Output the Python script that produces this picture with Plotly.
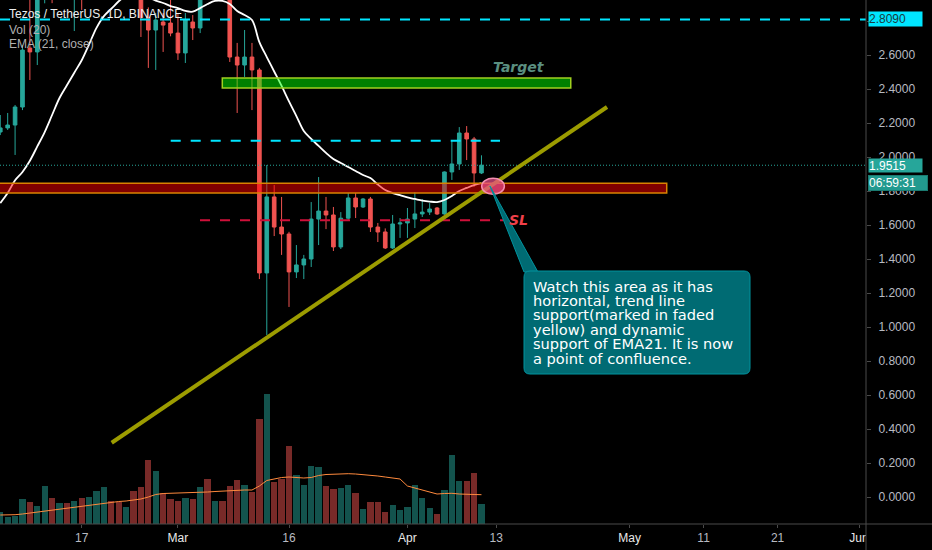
import plotly.graph_objects as go
import pandas as pd

# ---------------- data (XTZ/USDT, 1D) ----------------
dates = pd.date_range("2020-02-06", "2020-04-11", freq="D")

open_ = [2.147, 2.171, 2.188, 2.294, 2.641, 2.618, 3.00, 3.25, 3.15, 3.35,
         3.25, 3.45, 3.30, 3.50, 3.70, 3.90, 3.80, 3.70, 3.85, 3.40,
         2.82, 2.747, 2.794, 2.788, 2.729, 2.612, 2.794, 2.759, 3.10, 3.00,
         3.15, 3.05, 2.588, 2.541, 2.588, 2.512, 1.318, 1.765, 1.588, 1.547,
         1.324, 1.365, 1.400, 1.635, 1.682, 1.659, 1.471, 1.640, 1.759, 1.706,
         1.753, 1.588, 1.559, 1.465, 1.606, 1.612, 1.635, 1.665, 1.676, 1.700,
         1.665, 1.912, 1.959, 2.141, 2.106, 1.906]
high = [2.247, 2.259, 2.306, 2.659, 2.96, 3.10, 3.35, 3.40, 3.50, 3.45,
        3.60, 3.55, 3.60, 3.80, 4.00, 3.95, 3.90, 3.95, 3.90, 3.45,
        2.88, 2.847, 2.847, 2.95, 2.847, 2.847, 2.835, 3.15, 3.25, 3.25,
        3.20, 3.10, 2.671, 2.747, 2.671, 2.524, 1.953, 1.835, 1.765, 1.560,
        1.482, 1.424, 1.735, 1.882, 1.765, 1.706, 1.676, 1.788, 1.788, 1.759,
        1.765, 1.612, 1.580, 1.659, 1.641, 1.700, 1.794, 1.753, 1.729, 1.706,
        1.915, 2.100, 2.176, 2.182, 2.118, 2.010]
low = [2.129, 2.159, 2.012, 2.276, 2.453, 2.541, 2.904, 2.905, 3.05, 3.00,
       2.741, 2.865, 3.10, 3.20, 3.50, 3.60, 3.55, 3.45, 3.30, 2.706,
       2.524, 2.512, 2.618, 2.710, 2.571, 2.553, 2.688, 2.729, 2.95, 2.96,
       2.97, 2.559, 2.259, 2.471, 2.276, 1.282, 0.953, 1.535, 1.424, 1.118,
       1.288, 1.282, 1.353, 1.482, 1.576, 1.447, 1.459, 1.624, 1.641, 1.700,
       1.559, 1.500, 1.459, 1.459, 1.524, 1.524, 1.582, 1.647, 1.659, 1.659,
       1.660, 1.865, 1.924, 1.982, 1.824, 1.900]
close = [2.171, 2.188, 2.294, 2.629, 2.618, 3.00, 3.25, 3.15, 3.35, 3.25,
         3.45, 3.30, 3.50, 3.70, 3.90, 3.80, 3.70, 3.85, 3.40, 2.82,
         2.747, 2.806, 2.776, 2.729, 2.612, 2.806, 2.759, 3.10, 3.00, 3.15,
         3.05, 2.588, 2.541, 2.588, 2.512, 1.318, 1.765, 1.588, 1.547, 1.324,
         1.365, 1.400, 1.635, 1.682, 1.659, 1.471, 1.640, 1.759, 1.706, 1.753,
         1.588, 1.559, 1.465, 1.606, 1.612, 1.635, 1.665, 1.676, 1.694, 1.665,
         1.912, 1.959, 2.141, 2.106, 1.906, 1.9515]

# volume (units of 100k XTZ)
volume = [11.7, 7.3, 8.3, 24.7, 22.3, 18, 38, 25.7, 20.7, 20.7,
          23.3, 25.7, 27.3, 33, 37.3, 23.3, 22.3, 16.7, 33, 36.7,
          64, 53, 30.7, 25.3, 23, 26.3, 24.7, 37.3, 45, 23.3,
          23.3, 38, 44, 38.7, 31.7, 104.7, 130, 42, 45, 78,
          48.7, 39, 58.3, 57, 38.3, 35, 36.3, 38.7, 30.7, 14.7,
          21.7, 21.7, 12, 19, 14, 17.3, 38.7, 26, 16, 9.7,
          34, 69, 43, 43, 51.3, 20]
vol_ma20 = [9, 9, 9.3, 10, 11, 12, 13, 14, 15, 16,
            17, 18, 19, 20, 21, 22, 22.5, 23, 24, 25,
            27, 29.5, 30.5, 30.7, 30.7, 31, 31, 31.3, 32, 32.5,
            33, 33.3, 34, 34, 34, 38, 43.5, 45, 46.5, 47,
            46.5, 46, 46.5, 48.5, 49.5, 50, 50.3, 50.3, 50, 49.5,
            49, 48, 47, 46, 45, 38, 36, 34.5, 32, 30,
            30.5, 30.7, 30, 29.5, 29.5, 29.3]
ema21 = [1.729, 1.788, 1.863, 1.912, 1.978, 2.062, 2.147, 2.247, 2.347, 2.422,
         2.496, 2.569, 2.663, 2.760, 2.829, 2.872, 2.916, 2.95, 2.97, 2.96,
         2.94, 2.92, 2.906, 2.888, 2.876, 2.859, 2.855, 2.876, 2.90, 2.918,
         2.918, 2.90, 2.859, 2.835, 2.806, 2.676, 2.588, 2.503, 2.418, 2.327,
         2.241, 2.153, 2.106, 2.065, 2.024, 1.988, 1.965, 1.941, 1.918, 1.894,
         1.876, 1.838, 1.806, 1.788, 1.776, 1.762, 1.753, 1.744, 1.738, 1.735,
         1.747, 1.771, 1.80, 1.818, 1.835, 1.847]

tick_dates = ["2020-02-17", "2020-03-01", "2020-03-16", "2020-04-01", "2020-04-13",
              "2020-05-01", "2020-05-11", "2020-05-21", "2020-06-01"]
tick_text = ["17", "Mar", "16", "Apr", "13", "May", "11", "21", "Jun"]
month_labels = {"Mar", "Apr", "May", "Jun"}

last_price = 1.9515
level_top = 2.809
callout_lines = ["Watch this area as it has",
                 "horizontal, trend line",
                 "support(marked in faded",
                 "yellow) and dynamic",
                 "support of EMA21. It is now",
                 "a point of confluence."]

# ---------------- styling ----------------
UP, DOWN = "#26a69a", "#ef5350"
AXIS_TXT = "#b8bbc2"
LINE_GRAY = "#4a4a4a"
PW, PH = 866.0, 524.0   # plot area in px

def px_x(p):
    return p / PW

def px_y(p):
    return 1 - p / PH

vol_colors = ["rgba(38,166,154,0.5)" if c >= o else "rgba(239,83,80,0.5)"
              for o, c in zip(open_, close)]

fig = go.Figure()
fig.add_trace(go.Candlestick(
    x=dates, open=open_, high=high, low=low, close=close,
    increasing=dict(line=dict(color=UP, width=1), fillcolor=UP),
    decreasing=dict(line=dict(color=DOWN, width=1), fillcolor=DOWN),
    whiskerwidth=0, hoverinfo="skip"))
fig.add_trace(go.Scatter(x=dates, y=ema21, mode="lines",
                         line=dict(color="#ffffff", width=1.8, shape="spline"),
                         hoverinfo="skip"))
fig.add_trace(go.Bar(x=dates, y=volume, yaxis="y2",
                     marker=dict(color=vol_colors, line=dict(width=0)),
                     width=0.85 * 86400000, hoverinfo="skip"))
fig.add_trace(go.Scatter(x=dates, y=vol_ma20, yaxis="y2", mode="lines",
                         line=dict(color="#ff8a3d", width=1), hoverinfo="skip"))

shapes = []
# horizontal levels
shapes.append(dict(type="line", xref="paper", yref="y", x0=0, x1=1,
                   y0=level_top, y1=level_top, layer="above",
                   line=dict(color="#00e5ff", width=2, dash="10px,10px")))
shapes.append(dict(type="line", xref="x", yref="y", x0="2020-02-29 00:30",
                   x1="2020-04-13 12:00", y0=2.096, y1=2.096, layer="above",
                   line=dict(color="#00e5ff", width=2, dash="10px,10px")))
shapes.append(dict(type="line", xref="x", yref="y", x0="2020-03-03 23:30",
                   x1="2020-04-13 22:50", y0=1.628, y1=1.628, layer="above",
                   line=dict(color="#d0103a", width=2, dash="10px,10px")))
shapes.append(dict(type="line", xref="paper", yref="y", x0=0, x1=1,
                   y0=last_price, y1=last_price, layer="above",
                   line=dict(color=UP, width=1, dash="1px,2px")))
# zones
shapes.append(dict(type="rect", xref="x", yref="y", x0="2020-03-06 23:46",
                   x1="2020-04-23 01:26", y0=2.406, y1=2.465, layer="above",
                   fillcolor="rgba(0,255,0,0.5)", line=dict(color="#a0d020", width=1.5)))
shapes.append(dict(type="rect", xref="x", yref="y", x0="2020-02-01",
                   x1="2020-05-06 00:30", y0=1.788, y1=1.846, layer="above",
                   fillcolor="rgba(255,0,0,0.5)", line=dict(color="#d98200", width=1.5)))
# trend line
shapes.append(dict(type="line", xref="x", yref="y", x0="2020-02-21 01:12", y0=0.319,
                   x1="2020-04-27 23:02", y1=2.294, layer="above",
                   line=dict(color="#9c9c00", width=4)))
# ellipse
shapes.append(dict(type="circle", xref="x", yref="y", x0="2020-04-11 00:45",
                   x1="2020-04-14 02:10", y0=1.781, y1=1.875, layer="above",
                   fillcolor="rgba(240,80,140,0.7)", line=dict(color="#f48fb1", width=1.5)))
# callout pointer + box (paper coords from px)
ptr = "M {:.4f} {:.4f} L {:.4f} {:.4f} L {:.4f} {:.4f} Z".format(
    px_x(490), px_y(186), px_x(524), px_y(272), px_x(538), px_y(272))
shapes.append(dict(type="path", xref="paper", yref="paper", path=ptr, layer="above",
                   fillcolor="#006b73", line=dict(color="#00939e", width=1)))
bx0, bx1, by0, by1, r = 524, 750, 271, 374, 6
box = ("M {a} {b} L {c} {b} Q {d} {b} {d} {e} L {d} {f} Q {d} {g} {c} {g} "
       "L {a} {g} Q {h} {g} {h} {f} L {h} {e} Q {h} {b} {a} {b} Z").format(
    a=px_x(bx0 + r), b=px_y(by0), c=px_x(bx1 - r), d=px_x(bx1), e=px_y(by0 + r),
    f=px_y(by1 - r), g=px_y(by1), h=px_x(bx0))
shapes.append(dict(type="path", xref="paper", yref="paper", path=box, layer="above",
                   fillcolor="#006b73", line=dict(color="#00939e", width=1)))
# cover for clipped time label right of the price scale
shapes.append(dict(type="rect", xref="paper", yref="paper", x0=1.0, x1=1.08,
                   y0=-0.06, y1=-0.003, layer="above", fillcolor="#000000",
                   line=dict(width=0)))
# axes lines spanning full width / height
shapes.append(dict(type="line", xref="paper", yref="paper", x0=0, x1=932 / PW,
                   y0=0, y1=0, layer="above", line=dict(color=LINE_GRAY, width=1)))
shapes.append(dict(type="line", xref="paper", yref="paper", x0=1, x1=1,
                   y0=-26 / PH, y1=1, layer="above", line=dict(color=LINE_GRAY, width=1)))

ann = []
hdr = [("Tezos / TetherUS, 1D, BINANCE", 14.3, "#eeeeee"),
       ("Vol (20)", 30.0, "#b0b0b0"),
       ("EMA (21, close)", 44.3, "#b0b0b0")]
for t, yy, col in hdr:
    ann.append(dict(text=t, xref="paper", yref="paper", x=px_x(7), y=px_y(yy),
                    xanchor="left", yanchor="middle", showarrow=False,
                    font=dict(family="Liberation Sans", size=12, color=col)))
ann.append(dict(text="<b><i>Target</i></b>", xref="paper", yref="paper",
                x=px_x(519), y=px_y(67), showarrow=False, xanchor="center", yanchor="middle",
                font=dict(family="DejaVu Sans", size=14, color="#5a8f80")))
ann.append(dict(text="<b><i>SL</i></b>", xref="paper", yref="paper",
                x=px_x(507), y=px_y(219.5), showarrow=False, xanchor="left", yanchor="middle",
                font=dict(family="DejaVu Sans", size=14, color="#f0404a")))
for k, line in enumerate(callout_lines):
    ann.append(dict(text=line, xref="paper", yref="paper", x=px_x(531),
                    y=px_y(286 + 14.4 * k), xanchor="left", yanchor="middle",
                    showarrow=False,
                    font=dict(family="DejaVu Sans", size=14.6, color="#ffffff")))
# price-scale labels
ann.append(dict(text="2.8090", xref="paper", yref="y", x=868 / PW, y=level_top,
                xanchor="left", yanchor="middle", showarrow=False, bgcolor="#00e5ff",
                width=53, height=14, borderpad=0, align="left",
                font=dict(family="Liberation Sans", size=12, color="#1b3a40")))
ann.append(dict(text="1.9515", xref="paper", yref="y", x=868 / PW, y=last_price,
                xanchor="left", yanchor="middle", showarrow=False, bgcolor=UP,
                width=53, height=13, borderpad=0, align="left",
                font=dict(family="Liberation Sans", size=12, color="#ffffff")))
ann.append(dict(text="06:59:31", xref="paper", yref="paper", x=868 / PW, y=px_y(183),
                xanchor="left", yanchor="middle", showarrow=False, bgcolor="#229a8f",
                bordercolor="#1a7a70", borderwidth=1, width=58, height=14, borderpad=0,
                align="left", font=dict(family="Liberation Sans", size=12, color="#ffffff")))

ticktext_fmt = ["<span style='color:#e8e8e8'>%s</span>" % t if t in month_labels else t
                for t in tick_text]

fig.update_layout(
    width=932, height=550, margin=dict(l=0, r=66, t=0, b=26),
    paper_bgcolor="#000000", plot_bgcolor="#000000", showlegend=False,
    shapes=shapes, annotations=ann, bargap=0,
    xaxis=dict(type="date", range=["2020-02-05 23:07", "2020-06-01 22:33"],
               rangeslider=dict(visible=False), showgrid=False, zeroline=False,
               showline=False, tickvals=tick_dates, ticktext=ticktext_fmt,
               ticks="outside", ticklen=3, tickcolor=LINE_GRAY,
               tickfont=dict(family="Liberation Sans", size=12, color=AXIS_TXT),
               fixedrange=True),
    yaxis=dict(range=[-0.1588, 2.9235], side="right", showgrid=False, zeroline=False,
               showline=False, tick0=0, dtick=0.2, tickformat=".4f",
               ticks="outside", ticklen=4, tickcolor=LINE_GRAY,
               ticklabelstandoff=5,
               tickfont=dict(family="Liberation Sans", size=12, color=AXIS_TXT)),
    yaxis2=dict(range=[0, 524], overlaying="y", visible=False, fixedrange=True),
)

fig.write_html("out.html", config={"displayModeBar": False},
               post_script="document.body.style.margin='0';document.body.style.background='#000';")
